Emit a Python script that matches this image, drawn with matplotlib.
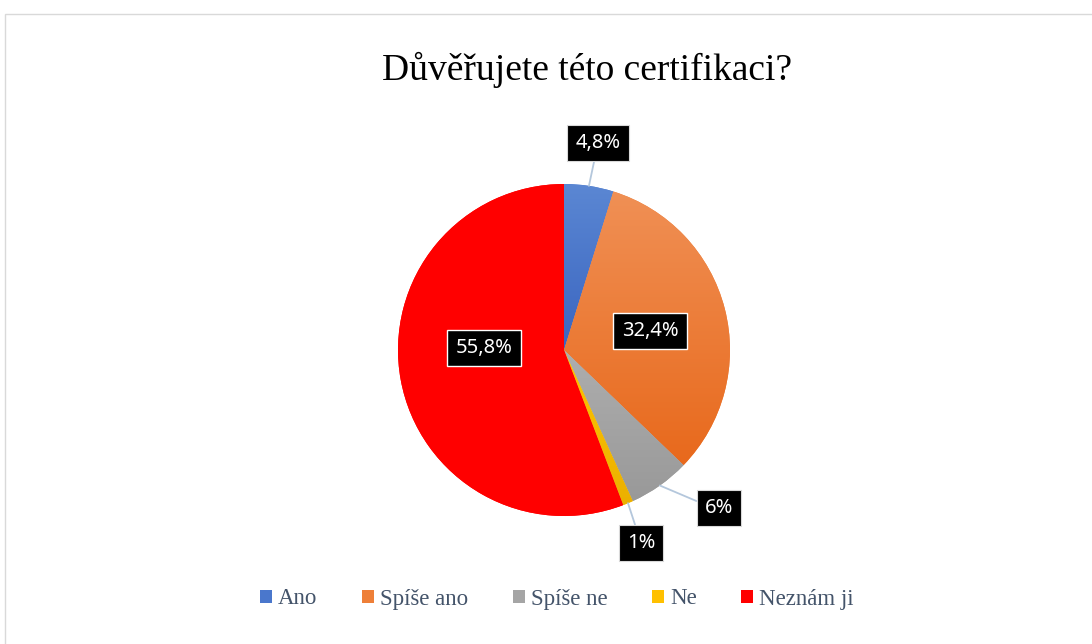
import matplotlib.pyplot as plt
import numpy as np
from matplotlib.colors import LinearSegmentedColormap
from matplotlib.patches import Rectangle

categories = ['Ano', 'Spíše ano', 'Spíše ne', 'Ne', 'Neznám ji']
values = [4.8, 32.4, 6, 1, 55.8]
value_labels = ['4,8%', '32,4%', '6%', '1%', '55,8%']
colors = ['#4A77CC', '#EE7F38', '#A5A5A5', '#FFC000', '#FF0000']
# top / bottom shades for the gradient fill of each slice
grad_top = ['#5B87D3', '#F09055', '#AEAEAE', '#FFC400', '#FF0000']
grad_bottom = ['#3A65C0', '#E8691C', '#999999', '#EBB000', '#FF0000']

W, H = 1092, 644
CX, CY, R = 564, H - 350, 166
SERIF = ['Liberation Serif', 'DejaVu Serif']

fig = plt.figure(figsize=(W / 100, H / 100), dpi=100)
ax = fig.add_axes([0, 0, 1, 1])

wedges, _ = ax.pie(values, colors=colors, startangle=90, counterclock=False,
                   center=(CX, CY), radius=R)
ax.set_xlim(0, W)
ax.set_ylim(0, H)
ax.set_aspect('equal')
ax.axis('off')

# vertical gradient inside each slice
for w, top, bot in zip(wedges, grad_top, grad_bottom):
    verts = w.get_patch_transform().transform(w.get_path().vertices)
    x0, y0 = verts.min(axis=0)
    x1, y1 = verts.max(axis=0)
    cmap = LinearSegmentedColormap.from_list('g', [bot, top])
    im = ax.imshow(np.linspace(0, 1, 256).reshape(-1, 1), cmap=cmap, origin='lower',
                   extent=(x0, x1, y0, y1), aspect='auto', zorder=w.get_zorder() + 0.1)
    im.set_clip_path(w)
ax.set_xlim(0, W)
ax.set_ylim(0, H)

# chart area border
ax.add_patch(Rectangle((5, -20), W + 20, H - 14 + 20, fill=False,
                       edgecolor='#D9D9D9', linewidth=1, zorder=0))

ax.text(587, H - 70, 'Důvěřujete této certifikaci?', ha='center', va='center',
        fontsize=27, family=SERIF, color='black')

# label box centres in pixels (x, y from top)
label_pos = {
    'Ano': (598, 143),
    'Spíše ano': (650, 331),
    'Spíše ne': (719, 508),
    'Ne': (641, 543),
    'Neznám ji': (484, 348),
}
line_color = '#B4C7DC'
for w, cat, lab in zip(wedges, categories, value_labels):
    x, y = label_pos[cat]
    if cat in ('Spíše ano', 'Neznám ji'):
        box = dict(boxstyle='square,pad=0.42', facecolor='black', edgecolor='white', linewidth=1)
        ax.text(x, H - y, lab, ha='center', va='center', fontsize=14.5,
                family='Noto Sans', color='white', bbox=box, zorder=5)
        continue
    box = dict(boxstyle='square,pad=0.4', facecolor='black', edgecolor='#D9D9D9', linewidth=0.8)
    ang = np.deg2rad((w.theta1 + w.theta2) / 2)
    px, py = CX + R * np.cos(ang), CY + R * np.sin(ang)
    conn = 'angle,angleA=0,angleB=-23,rad=0' if cat == 'Spíše ne' else 'arc3'
    ax.annotate(lab, xy=(px, py), xytext=(x, H - y), ha='center', va='center',
                fontsize=14.5, family='Noto Sans', color='white', bbox=box, zorder=5,
                arrowprops=dict(arrowstyle='-', color=line_color, linewidth=1.3,
                                shrinkA=0, shrinkB=0, connectionstyle=conn))

handles = [Rectangle((0, 0), 1, 1, facecolor=c, edgecolor='none') for c in colors]
fig.legend(handles, categories, loc='center', bbox_to_anchor=(557 / W, 1 - 599 / H),
           ncol=5, frameon=False, prop={'family': SERIF, 'size': 16.5},
           handlelength=0.52, handleheight=0.52, handletextpad=0.25,
           columnspacing=1.96, labelcolor='#44546A')

fig.savefig('out.png', dpi=100)
